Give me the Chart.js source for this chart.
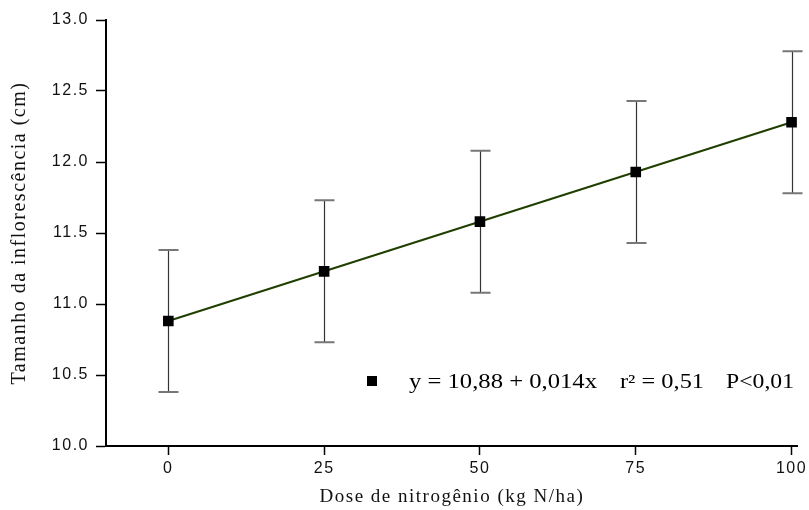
<!DOCTYPE html>
<html>
<head>
<meta charset="utf-8">
<script src="https://cdn.jsdelivr.net/npm/chart.js@4/dist/chart.umd.min.js"></script>
<style>
  html, body { margin: 0; padding: 0; background: #fff; }
  canvas { display: block; }
</style>
</head>
<body>
<canvas id="c" width="809" height="510"></canvas>
<script>
// ---- data ----
const doses = [0, 25, 50, 75, 100];                 // kg N/ha
const tamanho = [10.88, 11.23, 11.58, 11.93, 12.28]; // cm
const erro = [0.5, 0.5, 0.5, 0.5, 0.5];              // error bar half-length
const fitX = [0, 100];
const fitY = [10.88, 12.28];                          // y = 10,88 + 0,014x
const xTickValues = [0, 25, 50, 75, 100];
const yTickValues = [10.0, 10.5, 11.0, 11.5, 12.0, 12.5, 13.0];
const legendParts = ['y = 10,88 + 0,014x', 'r² = 0,51', 'P<0,01'];
const xTitle = 'Dose de nitrogênio (kg N/ha)';
const yTitle = 'Tamanho da inflorescência (cm)';

const spacingPlugin = {
  id: 'spacing',
  beforeDraw(chart) { chart.ctx.letterSpacing = '1.5px'; },
  beforeDatasetsDraw(chart) {
    const ctx = chart.ctx;
    const xs = chart.scales.x, ys = chart.scales.y;
    ctx.save();
    ctx.letterSpacing = '0px';
    doses.forEach((d, i) => {
      const px = Math.round(xs.getPixelForValue(d)) + 0.5;
      const top = ys.getPixelForValue(tamanho[i] + erro[i]);
      const bot = ys.getPixelForValue(tamanho[i] - erro[i]);
      ctx.strokeStyle = '#333';
      ctx.lineWidth = 1.2;
      ctx.beginPath();
      ctx.moveTo(px, top); ctx.lineTo(px, bot);
      ctx.stroke();
      ctx.strokeStyle = '#777';
      ctx.lineWidth = 2;
      ctx.beginPath();
      ctx.moveTo(px - 10, top); ctx.lineTo(px + 10, top);
      ctx.moveTo(px - 10, bot); ctx.lineTo(px + 10, bot);
      ctx.stroke();
    });
    ctx.restore();
  },
  afterDraw(chart) {
    const ctx = chart.ctx;
    ctx.save();
    ctx.letterSpacing = '0px';
    // legend marker
    ctx.fillStyle = '#000';
    ctx.fillRect(367, 376, 10, 10);
    // legend text (stretched horizontally like the reference)
    const pos = [[409, 188], [620, 84], [726, 68]];
    ctx.font = '20px "Liberation Serif"';
    ctx.textBaseline = 'alphabetic';
    legendParts.forEach((t, i) => {
      const w = ctx.measureText(t).width;
      const sx = pos[i][1] / w;
      ctx.save();
      ctx.translate(pos[i][0], 388);
      ctx.scale(sx, 1);
      ctx.fillText(t, 0, 0);
      ctx.restore();
    });
    ctx.restore();
  }
};

new Chart(document.getElementById('c'), {
  data: {
    datasets: [
      {
        type: 'line',
        data: fitX.map((x, i) => ({ x: x, y: fitY[i] })),
        borderColor: '#1f3f00',
        borderWidth: 2,
        pointRadius: 0,
        fill: false,
        order: 2
      },
      {
        type: 'scatter',
        data: doses.map((x, i) => ({ x: x, y: tamanho[i] })),
        pointStyle: 'rect',
        pointRadius: 7.5,
        backgroundColor: '#000',
        borderColor: '#000',
        borderWidth: 0,
        order: 1
      }
    ]
  },
  options: {
    responsive: false,
    devicePixelRatio: 1,
    animation: false,
    layout: { padding: { top: 20, right: 10, left: 0, bottom: 0 } },
    plugins: { legend: { display: false }, tooltip: { enabled: false } },
    scales: {
      x: {
        type: 'linear',
        min: -10,
        max: 101,
        afterBuildTicks: s => { s.ticks = xTickValues.map(v => ({ value: v })); },
        afterFit: s => { s.height = 64; },
        ticks: {
          autoSkip: false, maxRotation: 0, padding: 4, color: '#111',
          font: { family: 'Liberation Sans', size: 16 },
          callback: v => String(v)
        },
        grid: { drawOnChartArea: false, drawTicks: true, tickLength: 9, tickColor: '#000', tickWidth: 1.5 },
        border: { color: '#000', width: 2 },
        title: {
          display: true, text: xTitle, color: '#111',
          font: { family: 'Liberation Serif', size: 19, lineHeight: 1 },
          padding: { top: 0, bottom: 3 }
        }
      },
      y: {
        type: 'linear',
        min: 10,
        max: 13,
        afterBuildTicks: s => { s.ticks = yTickValues.map(v => ({ value: v })); },
        afterFit: s => { s.width = 106; },
        ticks: {
          padding: 7, color: '#111',
          font: { family: 'Liberation Sans', size: 16 },
          callback: v => Number(v).toFixed(1)
        },
        grid: { drawOnChartArea: false, drawTicks: true, tickLength: 10, tickColor: '#000', tickWidth: 1.5 },
        border: { color: '#000', width: 2 },
        title: {
          display: true, text: yTitle, color: '#111',
          font: { family: 'Liberation Serif', size: 20, lineHeight: 1.2 },
          padding: { top: 8, bottom: 0 }
        }
      }
    }
  },
  plugins: [spacingPlugin]
});
</script>
</body>
</html>
